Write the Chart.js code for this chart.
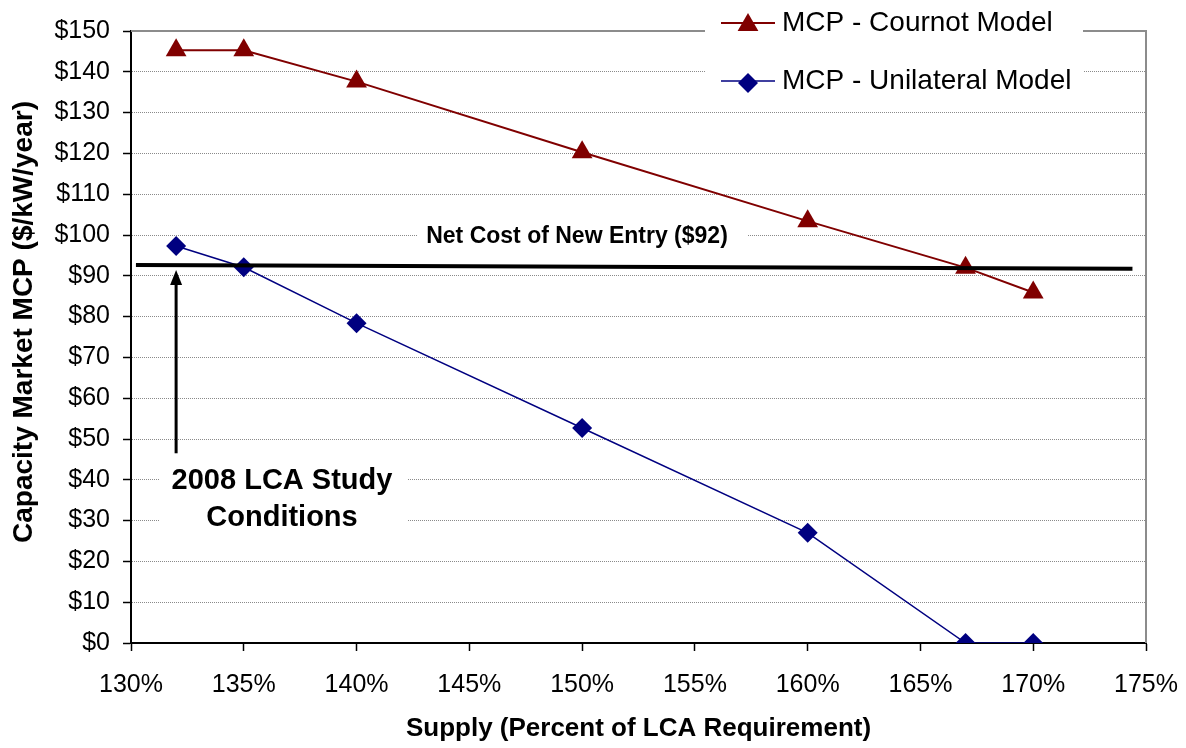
<!DOCTYPE html>
<html>
<head>
<meta charset="utf-8">
<script src="https://cdn.jsdelivr.net/npm/chart.js@4.4.1/dist/chart.umd.min.js"></script>
<style>
  html, body { margin: 0; padding: 0; background: #fff; }
  #wrap { width: 1186px; height: 748px; }
</style>
</head>
<body>
<div id="wrap"><canvas id="mcpChart" width="1186" height="748"></canvas></div>
<script>
/* ── Dados ── */
const supply     = [132, 135, 140, 150, 160, 167, 170];          // % of LCA requirement
const cournot    = [145.3, 145.3, 137.6, 120.3, 103.4, 92.0, 85.9];
const unilateral = [97.3, 92.1, 78.4, 52.7, 27.0, 0, 0];
const netCostX   = [130.22, 174.4];
const netCostY   = [92.65, 91.74];
const seriesNames = ['MCP - Cournot Model', 'MCP - Unilateral Model'];
const xRange = [130, 175, 5];
const yRange = [0, 150, 10];
const arrowAt = { x: 132, from: 46.5, to: 91.4 };

/* ── Paleta ── */
const C = {
  cournot: '#800000',
  unilateral: '#000080',
  grid: '#8a8a8a',
  frame: '#8c8c8c',
  text: '#000',
};
const FONT = "'Liberation Sans', Arial, sans-serif";

const pts = (xs, ys) => xs.map((x, i) => ({ x, y: ys[i] }));

function triangle(ctx, cx, cy, r) {
  ctx.beginPath();
  ctx.moveTo(cx, cy - r);
  ctx.lineTo(cx + r * Math.cos(Math.PI / 6), cy + r / 2);
  ctx.lineTo(cx - r * Math.cos(Math.PI / 6), cy + r / 2);
  ctx.closePath();
  ctx.fill();
}
function diamond(ctx, cx, cy, r) {
  ctx.beginPath();
  ctx.moveTo(cx, cy - r);
  ctx.lineTo(cx + r, cy);
  ctx.lineTo(cx, cy + r);
  ctx.lineTo(cx - r, cy);
  ctx.closePath();
  ctx.fill();
}

/* ── Moldura, legenda e anotações ── */
const decorations = {
  id: 'decorations',
  afterDraw(chart) {
    const { ctx, chartArea: a, scales: { x, y } } = chart;
    ctx.save();

    // frame top / right (gray)
    ctx.strokeStyle = C.frame;
    ctx.lineWidth = 2;
    ctx.beginPath();
    ctx.moveTo(a.left, a.top);
    ctx.lineTo(a.right, a.top);
    ctx.lineTo(a.right, a.bottom);
    ctx.stroke();

    // y axis title
    ctx.save();
    ctx.translate(24, 322);
    ctx.rotate(-Math.PI / 2);
    ctx.fillStyle = C.text;
    ctx.font = 'bold 28px ' + FONT;
    ctx.textAlign = 'center';
    ctx.textBaseline = 'middle';
    ctx.fillText('Capacity Market MCP ($/kW/year)', 0, 0);
    ctx.restore();

    // legend
    ctx.fillStyle = '#fff';
    ctx.fillRect(705, 0, 378, 100);
    const rows = [
      { y: 23, color: C.cournot, draw: triangle, r: 12, w: 2 },
      { y: 81, color: C.unilateral, draw: diamond, r: 10, w: 1.5 },
    ];
    rows.forEach((row, i) => {
      ctx.strokeStyle = row.color;
      ctx.lineWidth = row.w;
      ctx.beginPath();
      ctx.moveTo(721, row.y);
      ctx.lineTo(775, row.y);
      ctx.stroke();
      ctx.fillStyle = row.color;
      row.draw(ctx, 748, row.y + 2, row.r);
      ctx.fillStyle = C.text;
      ctx.font = '28px ' + FONT;
      ctx.textAlign = 'left';
      ctx.textBaseline = 'middle';
      ctx.fillText(seriesNames[i], 782, row.y);
    });

    // Net CONE label
    ctx.fillStyle = '#fff';
    ctx.fillRect(418, 222, 330, 28);
    ctx.fillStyle = C.text;
    ctx.font = 'bold 23px ' + FONT;
    ctx.textAlign = 'center';
    ctx.textBaseline = 'middle';
    ctx.fillText('Net Cost of New Entry ($92)', 577, 237);

    // 2008 LCA label
    ctx.fillStyle = '#fff';
    ctx.fillRect(160, 458, 248, 84);
    ctx.fillStyle = C.text;
    ctx.font = 'bold 29px ' + FONT;
    ctx.fillText('2008 LCA Study', 282, 481);
    ctx.fillText('Conditions', 282, 518);

    // arrow
    const ax = x.getPixelForValue(arrowAt.x);
    const y0 = y.getPixelForValue(arrowAt.from);
    const y1 = y.getPixelForValue(arrowAt.to);
    ctx.strokeStyle = '#000';
    ctx.lineWidth = 3;
    ctx.beginPath();
    ctx.moveTo(ax, y0);
    ctx.lineTo(ax, y1 + 12);
    ctx.stroke();
    ctx.fillStyle = '#000';
    ctx.beginPath();
    ctx.moveTo(ax, y1);
    ctx.lineTo(ax + 6, y1 + 15);
    ctx.lineTo(ax - 6, y1 + 15);
    ctx.closePath();
    ctx.fill();

    ctx.restore();
  }
};

new Chart(document.getElementById('mcpChart'), {
  type: 'line',
  data: {
    datasets: [
      {
        label: 'Net Cost of New Entry',
        data: pts(netCostX, netCostY),
        borderColor: '#000',
        borderWidth: 4,
        pointRadius: 0,
        tension: 0,
      },
      {
        label: seriesNames[0],
        data: pts(supply, cournot),
        borderColor: C.cournot,
        backgroundColor: C.cournot,
        borderWidth: 2,
        pointStyle: 'triangle',
        pointRadius: 12,
        pointBorderWidth: 0,
        tension: 0,
      },
      {
        label: seriesNames[1],
        data: pts(supply, unilateral),
        borderColor: C.unilateral,
        backgroundColor: C.unilateral,
        borderWidth: 1.5,
        pointStyle: 'rectRot',
        pointRadius: 10,
        pointBorderWidth: 0,
        tension: 0,
      },
    ]
  },
  options: {
    responsive: false,
    animation: false,
    devicePixelRatio: 1,
    layout: { padding: { top: 31, right: 40, bottom: 0, left: 0 } },
    plugins: {
      legend: { display: false },
      tooltip: { enabled: false },
    },
    scales: {
      x: {
        type: 'linear',
        min: xRange[0], max: xRange[1],
        afterFit: s => { s.height = 105; s.paddingLeft = 0; s.paddingRight = 0; },
        ticks: {
          stepSize: xRange[2],
          color: C.text,
          font: { family: FONT, size: 25 },
          padding: 19,
          maxRotation: 0,
          callback: v => v + '%',
        },
        grid: { drawOnChartArea: false, tickLength: 8, tickColor: '#000', tickWidth: 1.5 },
        border: { color: '#000', width: 2 },
        title: {
          display: true,
          text: 'Supply (Percent of LCA Requirement)',
          color: C.text,
          font: { family: FONT, size: 26, weight: 'bold' },
          padding: 4,
        },
      },
      y: {
        min: yRange[0], max: yRange[1],
        afterFit: s => { s.width = 131; },
        ticks: {
          stepSize: yRange[2],
          color: C.text,
          font: { family: FONT, size: 25 },
          padding: 13,
          callback: v => '$' + v,
        },
        grid: { color: C.grid, lineWidth: 1, tickLength: 8, tickColor: '#000', tickWidth: 1.5 },
        border: { color: '#000', width: 2, dash: [1, 1] },
        title: { display: false },
      }
    }
  },
  plugins: [decorations]
});
</script>
</body>
</html>
